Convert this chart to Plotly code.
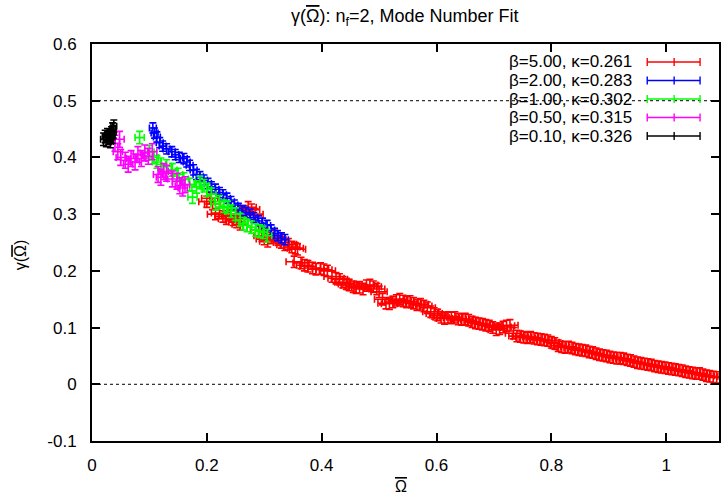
import plotly.graph_objects as go

# ---------------- data ----------------
labels = ["β=5.00, κ=0.261", "β=2.00, κ=0.283", "β=1.00, κ=0.302",
          "β=0.50, κ=0.315", "β=0.10, κ=0.326"]
colors = ["#ff0000", "#0000ff", "#00ff00", "#ff00ff", "#000000"]

red_x = [0.200, 0.205, 0.210, 0.215, 0.222, 0.228, 0.234, 0.240, 0.246, 0.252,
         0.258, 0.265, 0.272, 0.278, 0.284, 0.290, 0.296, 0.300, 0.306, 0.312,
         0.318, 0.324, 0.330, 0.336, 0.342, 0.348, 0.354, 0.358, 0.352, 0.364,
         0.370, 0.376, 0.384, 0.390, 0.398, 0.404, 0.410, 0.418, 0.425, 0.431,
         0.437, 0.443, 0.448, 0.455, 0.460, 0.466, 0.472, 0.478, 0.484, 0.490,
         0.496, 0.500, 0.506, 0.512, 0.518, 0.524, 0.530, 0.536, 0.542, 0.548,
         0.554, 0.560, 0.566, 0.572, 0.578, 0.584, 0.590, 0.596, 0.602, 0.608,
         0.614, 0.620, 0.626, 0.632, 0.638, 0.644, 0.650, 0.656, 0.662, 0.668,
         0.674, 0.680, 0.686, 0.692, 0.698, 0.704, 0.710, 0.716, 0.722, 0.728,
         0.734, 0.740, 0.746, 0.752, 0.758, 0.764, 0.770, 0.776, 0.782, 0.788,
         0.794, 0.800, 0.806, 0.812, 0.818, 0.824, 0.830, 0.836, 0.842, 0.848,
         0.854, 0.860, 0.866, 0.872, 0.878, 0.884, 0.890, 0.896, 0.902, 0.908,
         0.914, 0.920, 0.926, 0.932, 0.938, 0.944, 0.950, 0.956, 0.962, 0.968,
         0.974, 0.980, 0.986, 0.992, 0.998, 1.004, 1.010, 1.016, 1.022, 1.028,
         1.034, 1.040, 1.046, 1.052, 1.058, 1.064, 1.070, 1.076, 1.082, 1.088]
red_y = [0.322, 0.328, 0.318, 0.300, 0.302, 0.296, 0.292, 0.298, 0.290, 0.286,
         0.282, 0.305, 0.312, 0.308, 0.300, 0.272, 0.262, 0.256, 0.252, 0.258,
         0.262, 0.255, 0.250, 0.246, 0.247, 0.242, 0.240, 0.238, 0.216, 0.214,
         0.210, 0.208, 0.205, 0.203, 0.204, 0.202, 0.200, 0.190, 0.187, 0.185,
         0.180, 0.177, 0.175, 0.172, 0.170, 0.171, 0.168, 0.174, 0.175, 0.172,
         0.168, 0.163, 0.150, 0.143, 0.142, 0.145, 0.148, 0.150, 0.147, 0.145,
         0.146, 0.143, 0.140, 0.141, 0.138, 0.135, 0.128, 0.125, 0.122, 0.118,
         0.116, 0.118, 0.117, 0.118, 0.115, 0.114, 0.115, 0.113, 0.110, 0.108,
         0.107, 0.106, 0.104, 0.103, 0.100, 0.096, 0.098, 0.101, 0.103, 0.104,
         0.090, 0.085, 0.084, 0.083, 0.082, 0.083, 0.081, 0.080, 0.079, 0.078,
         0.077, 0.074, 0.072, 0.068, 0.066, 0.065, 0.066, 0.064, 0.062, 0.061,
         0.060, 0.059, 0.057, 0.056, 0.054, 0.052, 0.051, 0.050, 0.048, 0.047,
         0.046, 0.046, 0.045, 0.043, 0.042, 0.040, 0.038, 0.037, 0.036, 0.035,
         0.034, 0.032, 0.031, 0.030, 0.029, 0.028, 0.027, 0.026, 0.025, 0.024,
         0.022, 0.021, 0.020, 0.019, 0.019, 0.017, 0.015, 0.014, 0.013, 0.012]

blue_x = [0.106, 0.109, 0.113, 0.118, 0.123, 0.130, 0.139, 0.145, 0.152, 0.160,
          0.165, 0.170, 0.177, 0.182, 0.188, 0.195, 0.202, 0.208, 0.215, 0.222,
          0.228, 0.235, 0.242, 0.248, 0.255, 0.262, 0.268, 0.275, 0.282, 0.290,
          0.297, 0.305, 0.312, 0.318, 0.323, 0.330, 0.336]
blue_y = [0.452, 0.443, 0.436, 0.426, 0.420, 0.415, 0.410, 0.405, 0.400, 0.398,
          0.392, 0.386, 0.378, 0.370, 0.366, 0.360, 0.354, 0.348, 0.344, 0.338,
          0.334, 0.328, 0.322, 0.316, 0.310, 0.306, 0.303, 0.300, 0.294, 0.288,
          0.284, 0.280, 0.272, 0.266, 0.262, 0.258, 0.255]

green_x = [0.083, 0.100, 0.108, 0.113, 0.120, 0.130, 0.140, 0.150, 0.160, 0.170,
           0.175, 0.182, 0.188, 0.195, 0.200, 0.208, 0.215, 0.222, 0.230, 0.236,
           0.242, 0.250, 0.258, 0.264, 0.270, 0.278, 0.285, 0.292, 0.298, 0.305]
green_y = [0.435, 0.410, 0.400, 0.392, 0.388, 0.385, 0.378, 0.370, 0.362, 0.352,
           0.330, 0.348, 0.356, 0.350, 0.343, 0.335, 0.318, 0.322, 0.314, 0.312,
           0.305, 0.300, 0.290, 0.283, 0.280, 0.277, 0.272, 0.270, 0.268, 0.262]

magenta_x = [0.040, 0.045, 0.048, 0.050, 0.058, 0.063, 0.068, 0.075, 0.080, 0.086,
             0.092, 0.098, 0.105, 0.115, 0.120, 0.125, 0.130, 0.140, 0.148, 0.153,
             0.158, 0.162]
magenta_y = [0.425, 0.410, 0.432, 0.400, 0.395, 0.388, 0.398, 0.392, 0.405, 0.398,
             0.408, 0.402, 0.410, 0.370, 0.365, 0.375, 0.372, 0.362, 0.358, 0.350,
             0.346, 0.352]

black_x = [0.020, 0.023, 0.025, 0.027, 0.029, 0.031, 0.032, 0.034, 0.035, 0.036,
           0.037, 0.038]
black_y = [0.432, 0.437, 0.430, 0.440, 0.434, 0.438, 0.428, 0.443, 0.436, 0.450,
           0.445, 0.455]

# error bar half-widths per series (x, y)
x_errors = [0.014, 0.006, 0.008, 0.008, 0.005]
y_errors = [0.010, 0.009, 0.011, 0.014, 0.011]

x_ticks = [0, 0.2, 0.4, 0.6, 0.8, 1.0]
x_tick_text = ["0", "0.2", "0.4", "0.6", "0.8", "1"]
y_ticks = [-0.1, 0, 0.1, 0.2, 0.3, 0.4, 0.5, 0.6]
y_tick_text = ["-0.1", "0", "0.1", "0.2", "0.3", "0.4", "0.5", "0.6"]
ref_lines = [0.0, 0.5]

series_x = [red_x, blue_x, green_x, magenta_x, black_x]
series_y = [red_y, blue_y, green_y, magenta_y, black_y]

FONT = "Liberation Sans, Arial, Helvetica, sans-serif"
OMEGA_BAR = "<span style='text-decoration:overline'>Ω</span>"

fig = go.Figure()
for xs, ys, col, ex, ey, lab in zip(series_x, series_y, colors, x_errors, y_errors, labels):
    fig.add_trace(go.Scatter(
        x=xs, y=ys, mode="markers", name=lab,
        marker=dict(size=1, color=col, opacity=0),
        error_x=dict(type="constant", value=ex, color=col, thickness=1.6, width=3.5),
        error_y=dict(type="constant", value=ey, color=col, thickness=1.6, width=3.5),
        showlegend=False, cliponaxis=True, hoverinfo="skip",
    ))

shapes = []
for yv in ref_lines:
    shapes.append(dict(type="line", xref="paper", yref="y", x0=0, x1=1, y0=yv, y1=yv,
                       line=dict(color="black", width=1, dash="dot"), layer="below"))

# hand-drawn gnuplot-style key
row_px = [62, 80.5, 99, 117.5, 136]
L, R, T, B = 92, 721, 44, 441
W, H = R - L, B - T
def px(xp):
    return (xp - L) / W
def py(yp):
    return (B - yp) / H
annotations = []
cap = 4 / H
for lab, col, rp in zip(labels, colors, row_px):
    yy = py(rp)
    annotations.append(dict(text=lab, xref="paper", yref="paper", x=px(636), y=yy,
                            xanchor="right", yanchor="middle", showarrow=False,
                            font=dict(family=FONT, size=17, color="black")))
    x0, x1, xc = px(649), px(702), px(676)
    shapes.append(dict(type="line", xref="paper", yref="paper", x0=x0, x1=x1, y0=yy, y1=yy,
                       line=dict(color=col, width=1.4)))
    for xv in (x0, x1, xc):
        shapes.append(dict(type="line", xref="paper", yref="paper", x0=xv, x1=xv,
                           y0=yy - cap, y1=yy + cap, line=dict(color=col, width=1.4)))

# axis titles and title
annotations.append(dict(text=OMEGA_BAR, xref="paper", yref="paper", x=px(402), y=py(486),
                        xanchor="center", yanchor="middle", showarrow=False,
                        font=dict(family=FONT, size=16, color="black")))
annotations.append(dict(text="γ(" + OMEGA_BAR + ")", xref="paper", yref="paper", x=px(20), y=py(255),
                        xanchor="center", yanchor="middle", showarrow=False, textangle=-90,
                        font=dict(family=FONT, size=16, color="black")))
annotations.append(dict(text="γ(" + OMEGA_BAR + "): n<sub>f</sub>=2, Mode Number Fit", xref="paper",
                        yref="paper", x=px(406), y=py(17), xanchor="center", yanchor="middle",
                        showarrow=False, font=dict(family=FONT, size=18, color="black")))

fig.update_layout(
    width=721, height=495,
    margin=dict(l=L, r=0, t=T, b=495 - B, pad=0),
    paper_bgcolor="white", plot_bgcolor="white",
    font=dict(family=FONT, size=17, color="black"),
    shapes=shapes, annotations=annotations,
    xaxis=dict(range=[0, W / 576.0], tickvals=x_ticks, ticktext=x_tick_text,
               ticks="inside", ticklen=8, tickwidth=1.5, tickcolor="black",
               showline=True, linecolor="black", linewidth=2, mirror="allticks",
               showgrid=False, zeroline=False, ticklabelstandoff=8),
    yaxis=dict(range=[-0.1, 0.6], tickvals=y_ticks, ticktext=y_tick_text,
               ticks="inside", ticklen=8, tickwidth=1.5, tickcolor="black",
               showline=True, linecolor="black", linewidth=2, mirror="ticks",
               showgrid=False, zeroline=False, ticklabelstandoff=10),
)

fig.write_html("out.html", config={"displayModeBar": False},
               post_script="document.body.style.margin='0';document.body.style.overflow='hidden';")
